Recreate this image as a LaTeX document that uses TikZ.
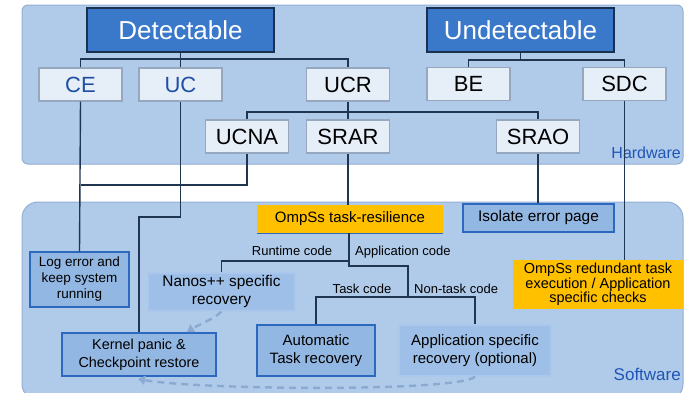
\documentclass[tikz,border=0pt]{standalone}
\usepackage{fontspec}
\setmainfont{Liberation Sans}
\usetikzlibrary{arrows.meta}
\definecolor{panelfill}{HTML}{B0CBEA}
\definecolor{paneldraw}{HTML}{94AED2}
\definecolor{titlefill}{HTML}{3A78C9}
\definecolor{titledraw}{HTML}{1B2F4E}
\definecolor{lightfill}{HTML}{E6EEF8}
\definecolor{lightdraw}{HTML}{95A8BF}
\definecolor{wire}{HTML}{1F3550}
\definecolor{swfill}{HTML}{93B7E3}
\definecolor{swdraw}{HTML}{2C68BD}
\definecolor{softfill}{HTML}{9EBFE7}
\definecolor{softdraw}{HTML}{ABC8EC}
\definecolor{orangefill}{HTML}{FFC000}
\definecolor{dashcol}{HTML}{8AAAD2}
\definecolor{labelblue}{HTML}{1F55B5}
\definecolor{ceblue}{HTML}{1E4FA3}
\tikzset{
  panel/.style={draw=paneldraw, line width=1pt, fill=panelfill},
  titlebox/.style={draw=titledraw, line width=1.3pt, fill=titlefill, text=white,
    minimum width=187pt, minimum height=44pt, inner sep=0pt, font=\fontsize{26}{30}\selectfont},
  hwbox/.style={draw=lightdraw, line width=1.2pt, fill=lightfill,
    minimum width=83pt, minimum height=33pt, inner sep=0pt, font=\fontsize{22}{26}\selectfont},
  swbox/.style={draw=swdraw, line width=1.3pt, fill=swfill, inner sep=0pt, align=center},
  softbox/.style={draw=softdraw, line width=1.2pt, fill=softfill, inner sep=0pt, align=center},
  orangebox/.style={fill=orangefill, inner sep=0pt, align=center},
  wireline/.style={draw=wire, line width=1.4pt},
  dasharrow/.style={draw=dashcol, line width=2.4pt, dash pattern=on 7pt off 5pt, -{Triangle[length=7pt,width=9pt]}},
  codelabel/.style={font=\fontsize{13}{15}\selectfont, inner sep=0pt},
}
\begin{document}
\begin{tikzpicture}[x=1pt, y=-1pt]
\useasboundingbox (0,0) rectangle (685,392);
% panels
\draw[panel, rounded corners=6pt] (22,5) rectangle (683,164);
\draw[panel, rounded corners=16pt] (22,202) rectangle (683,400);
\node[text=labelblue, font=\fontsize{16}{18}\selectfont, anchor=east, inner sep=0pt] (hwlabel) at (681,153) {Hardware};
\node[text=labelblue, font=\fontsize{17}{19}\selectfont, anchor=east, inner sep=0pt] (swlabel) at (681,374) {Software};

% hardware nodes
\node[titlebox] (det) at (180.5,30) {Detectable};
\node[titlebox] (undet) at (520.5,30) {Undetectable};
\node[hwbox, text=ceblue] (ce) at (80.5,84.5) {CE};
\node[hwbox, text=ceblue] (uc) at (180.5,84.5) {UC};
\node[hwbox] (ucr) at (348,84.5) {UCR};
\node[hwbox] (be) at (468.5,84) {BE};
\node[hwbox] (sdc) at (624.5,84) {SDC};
\node[hwbox] (ucna) at (247,136.5) {UCNA};
\node[hwbox] (srar) at (348,136.5) {SRAR};
\node[hwbox] (srao) at (538,136.5) {SRAO};

% hardware connectors
\coordinate (dj) at (180.5,59);
\draw[wireline] (det.south) -- (dj);
\draw[wireline] (ce.north) |- (dj) -| (ucr.north);
\draw[wireline] (dj) -- (uc.north);
\coordinate (uj) at (520.5,60);
\draw[wireline] (undet.south) -- (uj);
\draw[wireline] (be.north) |- (uj) -| (sdc.north);
\coordinate (rj) at (348,112);
\draw[wireline] (ucr.south) -- (srar.north);
\draw[wireline] (ucna.north) |- (rj) -| (srao.north);

% software nodes
\node[orangebox, minimum width=186pt, minimum height=28pt, font=\fontsize{15}{17}\selectfont] (omp) at (350,219) {OmpSs task-resilience};
\draw[draw=swdraw, line width=1pt] (omp.south west) -- (omp.south east);
\node[swbox, minimum width=151pt, minimum height=28pt, font=\fontsize{15.4}{17}\selectfont] (iso) at (538.5,218) {Isolate error page};
\node[swbox, minimum width=99pt, minimum height=55pt, font=\fontsize{13.5}{16}\selectfont] (log) at (79.5,279.5) {Log error and\\keep system\\running};
\node[softbox, minimum width=147pt, minimum height=38pt, font=\fontsize{15.4}{18}\selectfont] (nanos) at (221.5,292) {Nanos++ specific\\recovery};
\node[swbox, minimum width=154pt, minimum height=43pt, font=\fontsize{14.4}{18}\selectfont] (kern) at (139,354.5) {Kernel panic \&\\Checkpoint restore};
\node[swbox, minimum width=118pt, minimum height=51pt, font=\fontsize{15}{18}\selectfont] (auto) at (316,350.5) {Automatic\\Task recovery};
\node[softbox, minimum width=152pt, minimum height=51pt, font=\fontsize{15}{18}\selectfont] (app) at (475,350.5) {Application specific\\recovery (optional)};
\node[orangebox, minimum width=170pt, minimum height=49pt, font=\fontsize{14.5}{13.5}\selectfont] (red) at (598,284.5) {OmpSs redundant task\\execution / Application\\specific checks};

% hardware-to-software connectors
\coordinate (cj) at (80.5,185);
\draw[wireline] (ce.south) -- (log.north);
\draw[wireline] (ucna.south) |- (cj);
\coordinate (ucb) at (180.5,217);
\coordinate (ucc) at (139,217);
\draw[wireline] (uc.south) -- (ucb) -- (ucc) -- (kern.north);
\draw[wireline] (srar.south) -- (omp.north -| srar.south);
\draw[wireline] (srao.south) -- (iso.north -| srao.south);
\draw[wireline] (sdc.south) -- (red.north -| sdc.south);

% software connectors
\coordinate (oj1) at (349,261);
\coordinate (oj2) at (349,266);
\coordinate (oj3) at (408,266);
\coordinate (tj) at (408,297);
\draw[wireline] (omp.south -| oj1) -- (oj2) -- (oj3) -- (tj);
\draw[wireline] (oj1) -| (nanos.north);
\draw[wireline] (auto.north) |- (tj) -| (app.north);
\node[codelabel, anchor=base] (rtc) at (292,255) {Runtime code};
\node[codelabel, anchor=base west] (apc) at (355,255) {Application code};
\node[codelabel, anchor=base] (tc) at (362,293) {Task code};
\node[codelabel, anchor=base west] (ntc) at (414,293) {Non-task code};

% dashed arrows
\draw[dasharrow] (nanos.south) .. controls (212,320) and (198,325) .. (187,332);
\draw[dasharrow] (app.south) .. controls (460,392) and (200,390) .. (138,379);
\end{tikzpicture}
\end{document}
